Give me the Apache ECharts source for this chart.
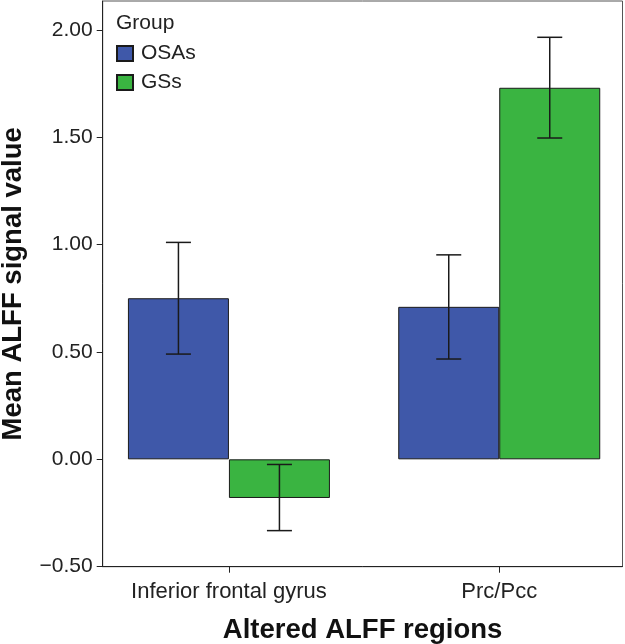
<!DOCTYPE html>
<html>
<head>
<meta charset="utf-8">
<script src="https://cdn.jsdelivr.net/npm/echarts@6/dist/echarts.min.js"></script>
<style>
html,body{margin:0;padding:0;background:#fff;}
#chart{width:625px;height:644px;}
</style>
</head>
<body>
<div id="chart"></div>
<script>
// ---- data ----
var categories = ['Inferior frontal gyrus', 'Prc/Pcc'];
var groups = ['OSAs', 'GSs'];
var osaMean = [0.75, 0.71];
var osaLow = [0.49, 0.467];
var osaHigh = [1.01, 0.952];
var gssMean = [-0.18, 1.73];
var gssLow = [-0.332, 1.496];
var gssHigh = [-0.024, 1.965];
var yTicks = [-0.5, 0, 0.5, 1.0, 1.5, 2.0];
var catPositions = [0, 1];

var FONT = 'Liberation Sans, Arial, Helvetica, sans-serif';
var BAR_W = 101;
var CAP = 12.5;
var colors = ['#3F58A9', '#3AB441'];

function fmt(v) {
  var s = Math.abs(v).toFixed(2);
  return v < 0 ? '\u2212' + s : s;
}

function errSeries(lows, highs, shift) {
  var data = catPositions.map(function (c, i) { return [c, lows[i], highs[i]]; });
  return {
    type: 'custom',
    silent: true,
    z: 10,
    data: data,
    renderItem: function (params, api) {
      var x = api.value(0);
      var lo = api.coord([x, api.value(1)]);
      var hi = api.coord([x, api.value(2)]);
      var cx = lo[0] + shift * BAR_W / 2;
      var st = { stroke: '#1a1a1a', lineWidth: 1.5 };
      return {
        type: 'group',
        children: [
          { type: 'line', shape: { x1: cx, y1: lo[1], x2: cx, y2: hi[1] }, style: st },
          { type: 'line', shape: { x1: cx - CAP, y1: lo[1], x2: cx + CAP, y2: lo[1] }, style: st },
          { type: 'line', shape: { x1: cx - CAP, y1: hi[1], x2: cx + CAP, y2: hi[1] }, style: st }
        ]
      };
    }
  };
}

var chart = echarts.init(document.getElementById('chart'), null, { renderer: 'canvas' });
chart.setOption({
  animation: false,
  backgroundColor: '#fff',
  textStyle: { fontFamily: FONT },
  title: {
    text: 'Group',
    left: 116, top: 13, padding: 0,
    textStyle: { fontFamily: FONT, fontSize: 21, fontWeight: 'normal', color: '#222' }
  },
  legend: {
    data: groups,
    orient: 'vertical',
    left: 116, top: 43, padding: 0,
    itemWidth: 16, itemHeight: 15, itemGap: 8,
    icon: 'rect',
    textStyle: { fontFamily: FONT, fontSize: 21, color: '#222', padding: [0, 0, 0, 3] }
  },
  grid: {
    left: 102.7, right: 2.5, top: 1, bottom: 77.3,
    show: true, borderColor: '#555', borderWidth: 1,
    containLabel: false, outerBoundsMode: 'none'
  },
  xAxis: {
    type: 'value',
    min: -0.467, max: 1.456,
    name: 'Altered ALFF regions',
    nameLocation: 'middle',
    nameGap: 50,
    nameTextStyle: { fontFamily: FONT, fontSize: 27.5, fontWeight: 'bold', color: '#111' },
    axisLine: { show: true, onZero: false, lineStyle: { color: '#222', width: 1 } },
    axisTick: { show: true, length: 6, customValues: catPositions, lineStyle: { color: '#222' } },
    axisLabel: {
      customValues: catPositions,
      fontFamily: FONT, fontSize: 22, color: '#222', margin: 14,
      formatter: function (v) { return categories[Math.round(v)] || ''; }
    },
    splitLine: { show: false }
  },
  yAxis: {
    type: 'value',
    min: -0.5, max: 2.134, interval: 0.5,
    name: 'Mean ALFF signal value',
    nameLocation: 'middle',
    nameGap: 75,
    nameTextStyle: { fontFamily: FONT, fontSize: 27.5, fontWeight: 'bold', color: '#111' },
    axisLine: { show: true, onZero: false, lineStyle: { color: '#222', width: 1 } },
    axisTick: { show: true, length: 6, customValues: yTicks, lineStyle: { color: '#222' } },
    axisLabel: {
      customValues: yTicks,
      fontFamily: FONT, fontSize: 21, color: '#222', margin: 10,
      formatter: fmt
    },
    splitLine: { show: false }
  },
  series: [
    {
      name: groups[0], type: 'bar', barWidth: BAR_W, barGap: '0%',
      itemStyle: { color: colors[0], borderColor: '#1a1a1a', borderWidth: 1 },
      data: catPositions.map(function (c, i) { return [c, osaMean[i]]; })
    },
    {
      name: groups[1], type: 'bar', barWidth: BAR_W, barGap: '0%',
      itemStyle: { color: colors[1], borderColor: '#1a1a1a', borderWidth: 1 },
      data: catPositions.map(function (c, i) { return [c, gssMean[i]]; })
    },
    errSeries(osaLow, osaHigh, -1),
    errSeries(gssLow, gssHigh, 1)
  ]
});
</script>
</body>
</html>
